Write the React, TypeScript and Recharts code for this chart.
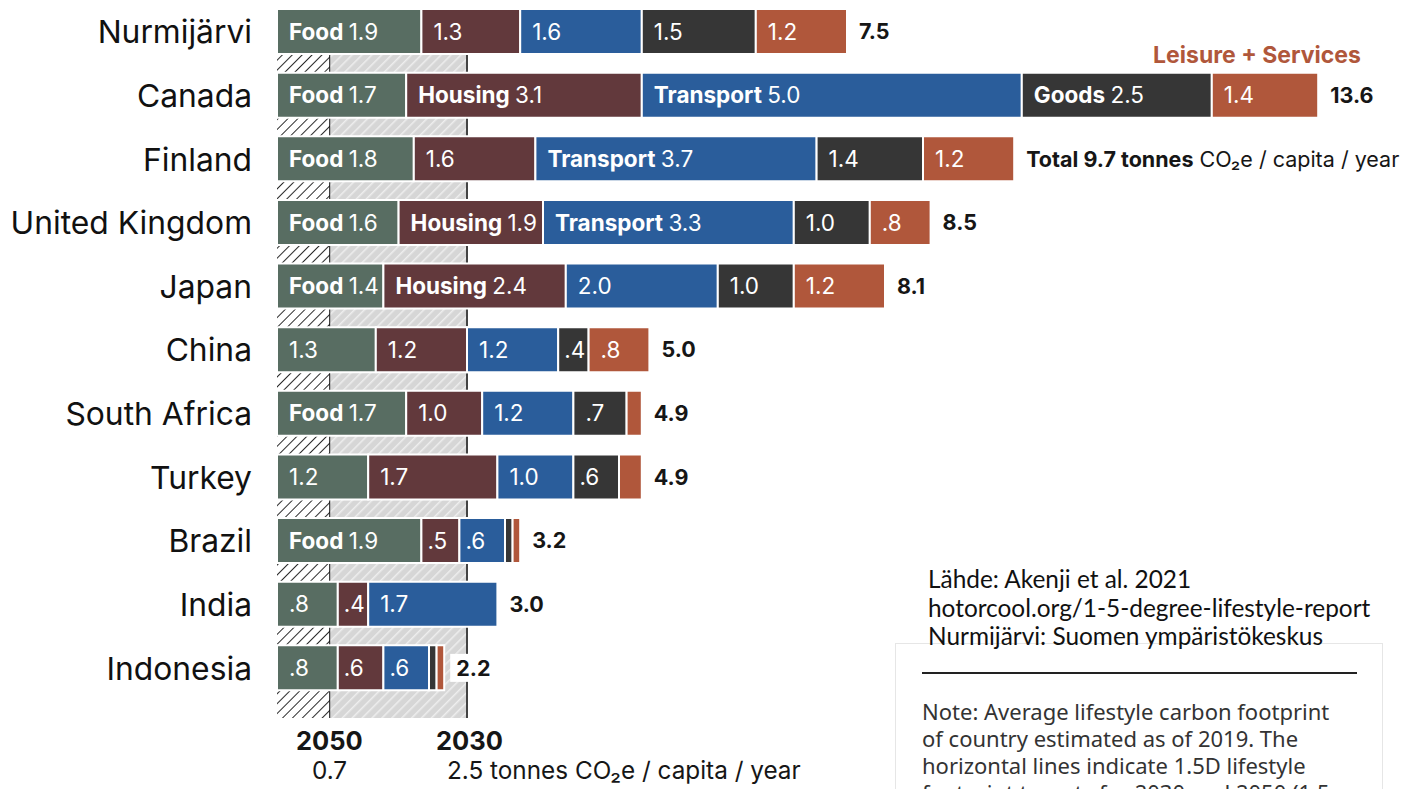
import { BarChart, Bar, XAxis, YAxis, LabelList, ReferenceArea } from 'recharts'

const countries = ['Nurmijärvi', 'Canada', 'Finland', 'United Kingdom', 'Japan', 'China', 'South Africa', 'Turkey', 'Brazil', 'India', 'Indonesia']
const food = [1.9, 1.7, 1.8, 1.6, 1.4, 1.3, 1.7, 1.2, 1.9, 0.8, 0.8]
const housing = [1.3, 3.1, 1.6, 1.9, 2.4, 1.2, 1.0, 1.7, 0.5, 0.4, 0.6]
const transport = [1.6, 5.0, 3.7, 3.3, 2.0, 1.2, 1.2, 1.0, 0.6, 1.7, 0.6]
const goods = [1.5, 2.5, 1.4, 1.0, 1.0, 0.4, 0.7, 0.6, 0.1, 0, 0.1]
const leisure = [1.2, 1.4, 1.2, 0.8, 1.2, 0.8, 0.2, 0.3, 0.1, 0, 0.1]
const totals = [7.5, 13.6, 9.7, 8.5, 8.1, 5.0, 4.9, 4.9, 3.2, 3.0, 2.2]

// which segments carry their category name in bold
const foodNamed = [1, 1, 1, 1, 1, 0, 1, 0, 1, 0, 0]
const housingNamed = [0, 1, 0, 1, 1, 0, 0, 0, 0, 0, 0]
const transportNamed = [0, 1, 1, 1, 0, 0, 0, 0, 0, 0, 0]
const goodsNamed = [0, 1, 0, 0, 0, 0, 0, 0, 0, 0, 0]
const leisureNamed = [0, 0, 0, 0, 0, 0, 0, 0, 0, 0, 0]

const target2050 = 0.7
const target2030 = 2.5

const series = [
  { key: 'food', name: 'Food', color: '#586d62', values: food, named: foodNamed },
  { key: 'housing', name: 'Housing', color: '#62393c', values: housing, named: housingNamed },
  { key: 'transport', name: 'Transport', color: '#2a5d9b', values: transport, named: transportNamed },
  { key: 'goods', name: 'Goods', color: '#363636', values: goods, named: goodsNamed },
  { key: 'leisure', name: 'Leisure + Services', color: '#b0573b', values: leisure, named: leisureNamed },
]

const fmt = (v: number) => (v < 0.35 ? '' : v < 1 ? '.' + Math.round(v * 10) : v.toFixed(1))

const data = countries.map((country, i) => {
  const row: any = { country }
  let last = series[0].key
  series.forEach((s) => {
    const v = s.values[i]
    row[s.key] = v
    if (v > 0) last = s.key
    const num = fmt(v)
    row[s.key + 'Label'] = num ? (s.named[i] ? s.name : '') + '|' + num : ''
  })
  // the total goes after the last non-empty segment of the row
  series.forEach((s) => {
    row[s.key + 'Total'] = ''
  })
  row[last + 'Total'] =
    country === 'Finland' ? `Total ${totals[i].toFixed(1)} tonnes| CO₂e / capita / year` : totals[i].toFixed(1) + '|'
  row.header = country === 'Canada' ? 'Leisure + Services' : ''
  return row
})

const FONT = 'Inter, "Noto Sans", sans-serif'

const SegLabel = (props: any) => {
  const { x, y, width, height, value } = props
  if (!value) return null
  const [bold, num] = String(value).split('|')
  const pad = width < 50 ? 6 : 12
  return (
    <text x={x + pad} y={y + height / 2} dy="0.36em" fill="#fff" fontSize={22.5} fontFamily={FONT}>
      {bold ? <tspan fontWeight={700}>{bold + ' '}</tspan> : null}
      <tspan>{num}</tspan>
    </text>
  )
}

const TotalLabel = (props: any) => {
  const { x, y, width, height, value } = props
  if (!value) return null
  const [bold, rest] = String(value).split('|')
  const tx = x + width + 12
  return (
    <g>
      <rect x={tx - 6} y={y + height / 2 - 14} width={bold.length * 13 + 12} height={28} fill="#fff" />
      <text x={tx} y={y + height / 2} dy="0.36em" fill="#161616" fontSize={21.5} fontFamily={FONT}>
        <tspan fontWeight={700}>{bold}</tspan>
        {rest ? <tspan>{rest}</tspan> : null}
      </text>
    </g>
  )
}

const HeaderLabel = (props: any) => {
  const { x, y, width, value } = props
  if (!value) return null
  return (
    <text x={x + width / 2 - 8} y={y - 18} dy="0.36em" textAnchor="middle" fill="#b0573b" fontSize={23} fontWeight={700} fontFamily={FONT}>
      {value}
    </text>
  )
}

const hatchShape = (fillId: string, lineColor: string) => (props: any) => {
  const { x, y, width, height } = props
  return (
    <g>
      <rect x={x} y={y + 8} width={width} height={height + 10} fill={`url(#${fillId})`} />
      <line x1={x + width} x2={x + width} y1={y + 8} y2={y + height + 18} stroke={lineColor} strokeWidth={2} />
    </g>
  )
}

const CountryTick = (props: any) => {
  const { x, y, payload } = props
  return (
    <text x={x - 17} y={y} dy="0.36em" textAnchor="end" fill="#111" fontSize={31.8} fontFamily={FONT}>
      {payload.value}
    </text>
  )
}

export default function App() {
  return (
    <div style={{ position: 'relative', width: 1409, height: 789, overflow: 'hidden', background: '#fff' }}>
      <style>{'body{margin:0;overflow:hidden}'}</style>
      <BarChart width={1409} height={789} data={data} layout="vertical" margin={{ top: 0, right: 30, left: 0, bottom: 89 }}>
        <defs>
          <pattern id="hatchBlack" width="7" height="7" patternUnits="userSpaceOnUse" patternTransform="rotate(45)">
            <rect width="7" height="7" fill="#fff" />
            <line x1="0" y1="0" x2="0" y2="7" stroke="#111" strokeWidth="1.8" />
          </pattern>
          <pattern id="hatchGray" width="7" height="7" patternUnits="userSpaceOnUse" patternTransform="rotate(45)">
            <rect width="7" height="7" fill="#d6d6d6" />
            <line x1="0" y1="0" x2="0" y2="7" stroke="#eeeeee" strokeWidth="3" />
          </pattern>
        </defs>
        <XAxis type="number" domain={[0, 14.5]} hide />
        <YAxis type="category" dataKey="country" width={277} axisLine={false} tickLine={false} tick={<CountryTick />} interval={0} />
        <ReferenceArea x1={0} x2={target2050} shape={hatchShape('hatchBlack', '#111')} />
        <ReferenceArea x1={target2050} x2={target2030} shape={hatchShape('hatchGray', '#444')} />
        {series.map((s) => (
          <Bar key={s.key} dataKey={s.key} stackId="a" fill={s.color} stroke="#fff" strokeWidth={2} barSize={45} isAnimationActive={false}>
            <LabelList dataKey={s.key + 'Label'} content={SegLabel} />
            <LabelList dataKey={s.key + 'Total'} content={TotalLabel} />
            {s.key === 'leisure' ? <LabelList dataKey="header" content={HeaderLabel} /> : null}
          </Bar>
        ))}
      </BarChart>

      <div style={{ position: 'absolute', left: 296, top: 728, fontFamily: FONT, fontWeight: 700, fontSize: 25.5, lineHeight: 1, color: '#161616' }}>2050</div>
      <div style={{ position: 'absolute', left: 436, top: 728, fontFamily: FONT, fontWeight: 700, fontSize: 25.5, lineHeight: 1, color: '#161616' }}>2030</div>
      <div style={{ position: 'absolute', left: 312, top: 758, fontFamily: FONT, fontSize: 24.3, lineHeight: 1, color: '#161616' }}>0.7</div>
      <div style={{ position: 'absolute', left: 447, top: 758, fontFamily: FONT, fontSize: 24.3, lineHeight: 1, color: '#161616' }}>2.5 tonnes CO₂e / capita / year</div>

      <div style={{ position: 'absolute', left: 895, top: 643, width: 486, height: 200, border: '1px solid #e6e6e6', background: '#fff' }} />
      <div style={{ position: 'absolute', left: 922, top: 672, width: 435, height: 2, background: '#222' }} />
      <div style={{ position: 'absolute', left: 922, top: 698, fontFamily: '"Noto Sans", sans-serif', fontSize: 22, lineHeight: '27px', color: '#333' }}>
        Note: Average lifestyle carbon footprint<br />
        of country estimated as of 2019. The<br />
        horizontal lines indicate 1.5D lifestyle<br />
        footprint targets for 2030 and 2050 (1.5
      </div>
      <div style={{ position: 'absolute', left: 928, top: 565, fontFamily: 'Lato, sans-serif', fontSize: 24.4, lineHeight: '28.5px', color: '#111' }}>
        Lähde: Akenji et al. 2021<br />
        hotorcool.org/1-5-degree-lifestyle-report<br />
        Nurmijärvi: Suomen ympäristökeskus
      </div>
    </div>
  )
}
